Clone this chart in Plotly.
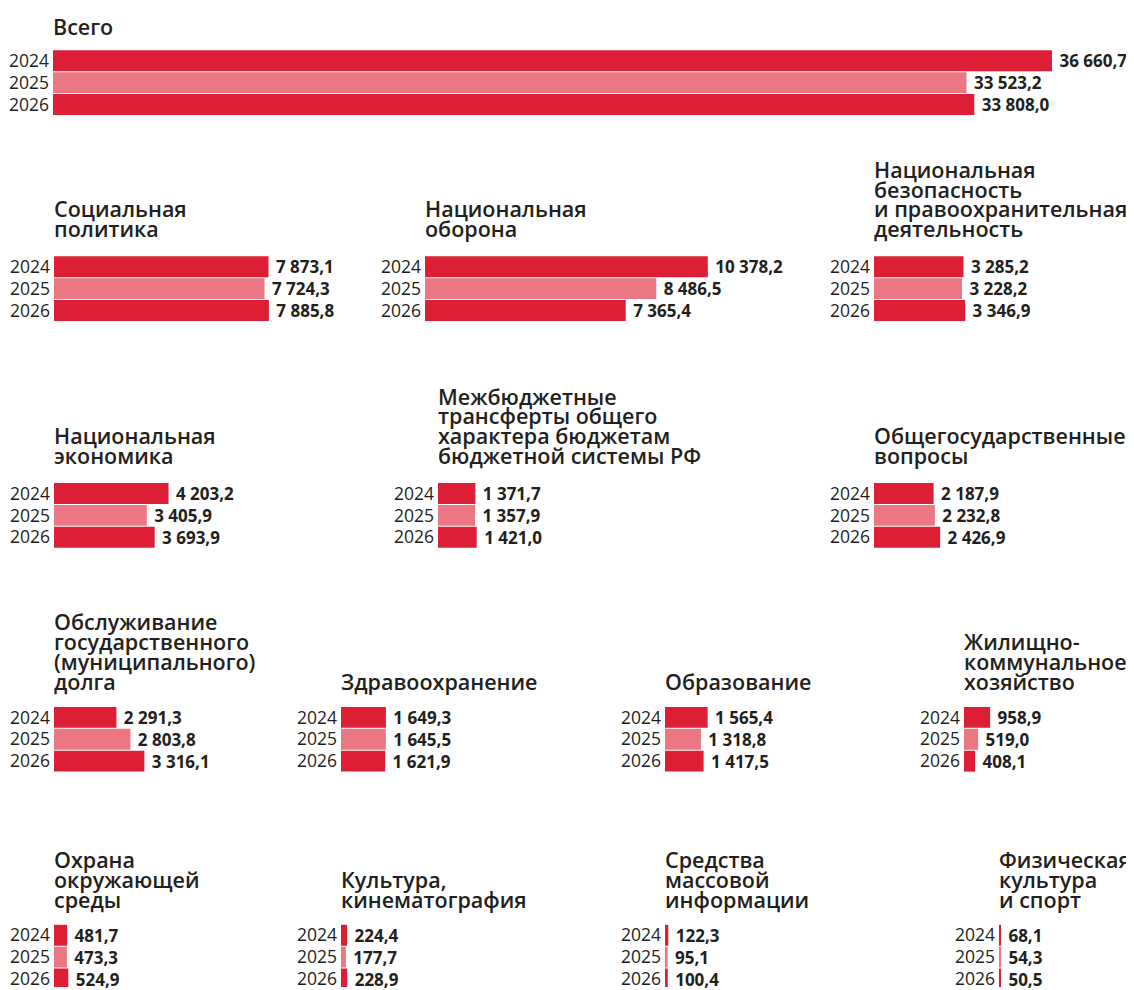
import plotly.graph_objects as go

# ---------------- data ----------------
years = ["2024", "2025", "2026"]

categories = [
    "Всего",
    "Социальная\nполитика",
    "Национальная\nоборона",
    "Национальная\nбезопасность\nи правоохранительная\nдеятельность",
    "Национальная\nэкономика",
    "Межбюджетные\nтрансферты общего\nхарактера бюджетам\nбюджетной системы РФ",
    "Общегосударственные\nвопросы",
    "Обслуживание\nгосударственного\n(муниципального)\nдолга",
    "Здравоохранение",
    "Образование",
    "Жилищно-\nкоммунальное\nхозяйство",
    "Охрана\nокружающей\nсреды",
    "Культура,\nкинематография",
    "Средства\nмассовой\nинформации",
    "Физическая\nкультура\nи спорт",
]

values_2024 = [36660.7, 7873.1, 10378.2, 3285.2, 4203.2, 1371.7, 2187.9,
               2291.3, 1649.3, 1565.4, 958.9, 481.7, 224.4, 122.3, 68.1]
values_2025 = [33523.2, 7724.3, 8486.5, 3228.2, 3405.9, 1357.9, 2232.8,
               2803.8, 1645.5, 1318.8, 519.0, 473.3, 177.7, 95.1, 54.3]
values_2026 = [33808.0, 7885.8, 7365.4, 3346.9, 3693.9, 1421.0, 2426.9,
               3316.1, 1621.9, 1417.5, 408.1, 524.9, 228.9, 100.4, 50.5]

# ---------------- layout (screen pixels) ----------------
W, H = 1134, 990
OFF = 8                      # default page body margin
FW, FH = W - OFF, H - OFF    # figure size


def fx(px):
    return (px - OFF) / FW


def fy(py):
    return 1 - (py - OFF) / FH


panel_x0 = [53, 54, 425, 874, 54, 438, 874, 54, 341, 665, 964, 54, 341, 665, 999]
panel_row = [0, 1, 1, 1, 2, 2, 2, 3, 3, 3, 3, 4, 4, 4, 4]
row_bar_top = [48, 255, 483, 708, 927]
row_title_base = [31.5, 235, 463, 690, 909]
PX_PER_UNIT = 999 / 36660.7     # common scale for all panels
PITCH = 22                      # px per bar row
LINE_H = 20                     # title line spacing
TITLE_SIZE = 21.5

RED = "#DD1F35"
PINK = "#EA7782"
TXT = "#231F20"
FONT = "Open Sans"

fig = go.Figure()
annotations = []

for i, cat in enumerate(categories):
    sfx = "" if i == 0 else str(i + 1)
    x0 = panel_x0[i]
    row = panel_row[i]
    top = row_bar_top[row]
    wpx = min(1000, W - x0 - 2)
    bottom = min(top + 3 * PITCH, H)
    hpx = bottom - top

    fig.add_trace(go.Bar(
        y=years,
        x=[values_2024[i], values_2025[i], values_2026[i]],
        orientation="h",
        xaxis="x" + sfx, yaxis="y" + sfx,
        marker=dict(color=[RED, PINK, RED], line=dict(width=0)),
        texttemplate="\u00a0%{x:,.1f}",
        textposition="outside",
        constraintext="none",
        cliponaxis=False,
        textfont=dict(family=FONT, size=17, color=TXT, weight=700),
        hovertemplate=cat.replace("\n", " ") + "<br>%{y}: %{x:,.1f}<extra></extra>",
        showlegend=False,
    ))

    fig.layout["xaxis" + sfx] = dict(
        domain=[fx(x0), min(1, fx(x0 + wpx))],
        range=[0, wpx / PX_PER_UNIT],
        visible=False, fixedrange=True,
        anchor="y" + sfx,
    )
    fig.layout["yaxis" + sfx] = dict(
        domain=[max(0, fy(bottom)), fy(top)],
        type="category",
        range=[-0.5 + hpx / PITCH, -0.5],
        showgrid=False, zeroline=False, showline=False, ticks="",
        ticklabelstandoff=3,
        tickfont=dict(family=FONT, size=17.5, color=TXT),
        fixedrange=True,
        anchor="x" + sfx,
    )

    lines = cat.split("\n")
    n = len(lines)
    for j, line in enumerate(lines):
        base = row_title_base[row] - (n - 1 - j) * LINE_H
        annotations.append(dict(
            text=line, xref="paper", yref="paper",
            x=fx(x0 - 2), y=fy(base - 7),
            xanchor="left", yanchor="middle", showarrow=False,
            font=dict(family=FONT, size=TITLE_SIZE, color=TXT, weight=600),
        ))

fig.update_layout(
    width=FW, height=FH,
    margin=dict(l=0, r=0, t=0, b=0),
    paper_bgcolor="white", plot_bgcolor="white",
    bargap=1 / PITCH,
    separators=", ",
    annotations=annotations,
    font=dict(family=FONT, color=TXT),
)

fig.write_html("out.html")
